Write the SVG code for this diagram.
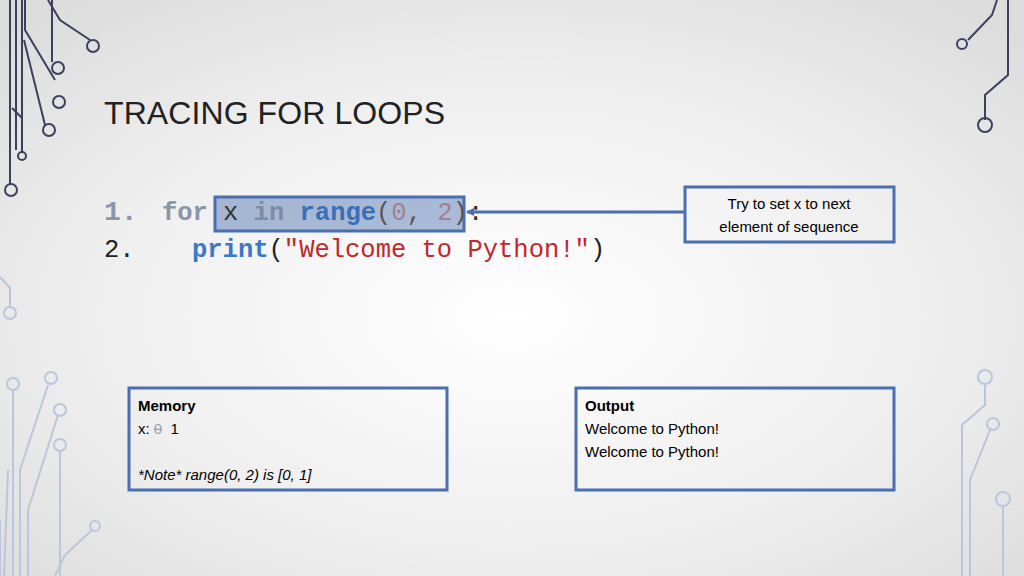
<svg xmlns="http://www.w3.org/2000/svg" width="1024" height="576" viewBox="0 0 1024 576">
<defs>
<radialGradient id="bg" cx="0.5" cy="0.55" r="0.7">
<stop offset="0" stop-color="#ffffff"/><stop offset="0.6" stop-color="#eeeeee"/><stop offset="1" stop-color="#dcdcdc"/>
</radialGradient>
<marker id="ah" markerWidth="8" markerHeight="8" refX="7" refY="4" orient="auto" markerUnits="userSpaceOnUse"><path d="M0,0 L8,4 L0,8 Z" fill="#4a6fb0"/></marker>
<style>
.dk{fill:none;stroke:#3d3f5e;stroke-width:2}
.lt{fill:none;stroke:#b9c6dc;stroke-width:2}
.box{fill:none;stroke:#4a6fb0;stroke-width:3}
.code{font-family:"Liberation Mono",monospace;font-size:25.5px}
.t{font-family:"Liberation Sans",Lato,sans-serif;font-size:15px;fill:#000}
</style>
</defs>
<rect width="1024" height="576" fill="url(#bg)"/>
<g id="deco">
<path class="dk" d="M10,0 V185 M16,0 V150 M22,0 V120 M48,0 L60,20 L90,40 M52,0 V62 M25,0 V30 L55,80 M24,40 L45,125"/>
<circle class="dk" cx="11" cy="190" r="6"/><circle class="dk" cx="93" cy="46" r="6"/><circle class="dk" cx="58" cy="68" r="6"/><circle class="dk" cx="59" cy="102" r="6"/><circle class="dk" cx="49" cy="130" r="6"/>
<path class="dk" d="M12,108 L22,118 V152"/><circle class="dk" cx="22" cy="156" r="4"/>
<path class="lt" d="M0,277 L10,288 V308 M13,390 V576 M0,520 V576 M8,470 L4,576 M48,385 L20,470 V576 M58,415 L28,510 V576 M60,450 V576 M92,530 L65,555 L55,576"/>
<circle class="lt" cx="10" cy="313" r="6"/><circle class="lt" cx="13" cy="384" r="6"/><circle class="lt" cx="51" cy="378" r="6"/><circle class="lt" cx="60" cy="410" r="6"/><circle class="lt" cx="60" cy="445" r="6"/><circle class="lt" cx="95" cy="526" r="5"/>
<path class="dk" d="M1008,0 V75 L985,95 V120 M997,0 L992,15 L968,40"/>
<circle class="dk" cx="985" cy="125" r="7"/><circle class="dk" cx="962" cy="44" r="5"/>
<path class="lt" d="M985,384 V405 L962,425 V576 M990,430 L970,480 V576 M1003,505 V576"/>
<circle class="lt" cx="985" cy="377" r="7"/><circle class="lt" cx="993" cy="424" r="6"/><circle class="lt" cx="1003" cy="499" r="7"/>
</g>
<text x="104" y="124" font-family="Liberation Sans,sans-serif" font-size="32" fill="#222" textLength="341">TRACING FOR LOOPS</text>
<g id="code">
<rect x="215" y="197" width="249" height="34" fill="#4a6fb0" fill-opacity="0.45" stroke="#4a6fb0" stroke-width="3"/>
<text class="code" y="220" xml:space="preserve"><tspan x="104" fill="#8a95a8" font-weight="bold" font-size="28">1.</tspan><tspan x="162" fill="#8a95a8" font-weight="bold">for</tspan><tspan x="223" fill="#333">x </tspan><tspan fill="#7f8ba0" font-weight="bold">in</tspan> <tspan fill="#3a6fb8" font-weight="bold">range</tspan><tspan fill="#555">(</tspan><tspan fill="#a08090">0</tspan><tspan fill="#555">, </tspan><tspan fill="#a08090">2</tspan><tspan fill="#555">)</tspan><tspan fill="#333">:</tspan></text>
<text class="code" y="257" xml:space="preserve"><tspan x="104" fill="#222">2.</tspan><tspan x="192" fill="#3a78c8" font-weight="bold">print</tspan><tspan fill="#222">(</tspan><tspan fill="#c0282a">"Welcome to Python!"</tspan><tspan fill="#222">)</tspan></text>
</g>
<g id="connectors">
<line x1="685" y1="212" x2="467" y2="212" stroke="#4a6fb0" stroke-width="3" marker-end="url(#ah)"/>
</g>
<g id="callout">
<rect class="box" x="685" y="187" width="209" height="55"/>
<text class="t" x="789" y="209" text-anchor="middle">Try to set x to next</text>
<text class="t" x="789" y="232" text-anchor="middle">element of sequence</text>
</g>
<g id="memory">
<rect class="box" x="129" y="388" width="318" height="102"/>
<text class="t" x="138" y="411" font-weight="bold">Memory</text>
<text class="t" x="138" y="434" xml:space="preserve">x: <tspan fill="#9aa3b0" text-decoration="line-through">0</tspan>  1</text>
<text class="t" x="138" y="480" font-style="italic">*Note* range(0, 2) is [0, 1]</text>
</g>
<g id="output">
<rect class="box" x="576" y="388" width="318" height="102"/>
<text class="t" x="585" y="411" font-weight="bold">Output</text>
<text class="t" x="585" y="434">Welcome to Python!</text>
<text class="t" x="585" y="457">Welcome to Python!</text>
</g>
</svg>
